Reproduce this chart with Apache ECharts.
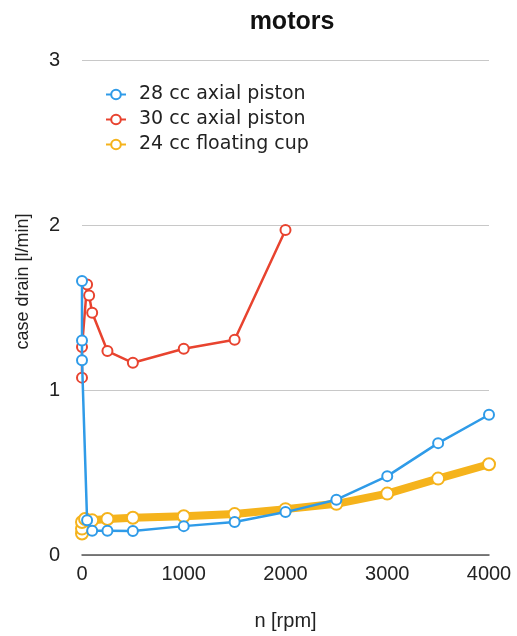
<!DOCTYPE html>
<html>
<head>
<meta charset="utf-8">
<script src="https://cdn.jsdelivr.net/npm/echarts@6/dist/echarts.min.js"></script>
<style>html,body{margin:0;padding:0;background:#fff;}#c{width:517px;height:636px;}</style>
</head>
<body>
<div id="c"></div>
<script>
var titleText = 'motors';
var xName = 'n [rpm]';
var yName = 'case drain [l/min]';
var xTicks = [0, 1000, 2000, 3000, 4000];
var yTicks = [0, 1, 2, 3];

var seriesNames = ['28 cc axial piston', '30 cc axial piston', '24 cc floating cup'];

var rpm28 = [0, 0, 0, 50, 100, 250, 500, 1000, 1500, 2000, 2500, 3000, 3500, 4000];
var drain28 = [1.66, 1.30, 1.18, 0.21, 0.147, 0.147, 0.145, 0.175, 0.20, 0.26, 0.335, 0.478, 0.678, 0.85];

var rpm30 = [0, 0, 50, 70, 100, 250, 500, 1000, 1500, 2000];
var drain30 = [1.075, 1.26, 1.64, 1.573, 1.468, 1.236, 1.165, 1.25, 1.305, 1.97];

var rpm24 = [0, 0, 0, 30, 100, 250, 500, 1000, 1500, 2000, 2500, 3000, 3500, 4000];
var drain24 = [0.13, 0.16, 0.2, 0.218, 0.21, 0.218, 0.226, 0.235, 0.248, 0.278, 0.31, 0.372, 0.463, 0.55];

var colors = ['#2f9be8', '#e8432f', '#f5b31c'];

function pairs(xs, ys) { return xs.map(function (x, i) { return [x, ys[i]]; }); }

var chart = echarts.init(document.getElementById('c'));
var font = 'Liberation Sans';
chart.setOption({
  animation: false,
  title: {
    text: titleText, left: 287, top: 5, textAlign: 'center',
    textStyle: { fontFamily: font, fontWeight: 'bold', fontSize: 25, color: '#111' }
  },
  legend: {
    orient: 'vertical', left: 100, top: 80, itemGap: 6,
    itemWidth: 20, itemHeight: 12,
    data: seriesNames,
    textStyle: { fontFamily: 'DejaVu Sans', fontSize: 19, color: '#222', padding: [0, 0, 0, 8] }
  },
  grid: { left: 82, right: 28, top: 60, bottom: 80, containLabel: false },
  xAxis: {
    type: 'value', min: 0, max: 4000, interval: 1000,
    name: xName, nameLocation: 'middle', nameGap: 56,
    nameTextStyle: { fontFamily: font, fontSize: 20, color: '#222' },
    axisLine: { show: true, lineStyle: { color: '#555', width: 1.5 } },
    axisTick: { show: false },
    splitLine: { show: false },
    axisLabel: { fontFamily: font, fontSize: 20, color: '#222', margin: 9,
      formatter: function (v) { return String(v); } }
  },
  yAxis: {
    type: 'value', min: 0, max: 3, interval: 1,
    name: yName, nameLocation: 'middle', nameGap: 50,
    nameTextStyle: { fontFamily: font, fontSize: 18, color: '#222', padding: [0, 0, 0, 52] },
    axisLine: { show: false },
    axisTick: { show: false },
    splitLine: { show: true, lineStyle: { color: '#c8c8c8', width: 1 } },
    axisLabel: { fontFamily: font, fontSize: 20, color: '#222', margin: 22 }
  },
  series: [
    {
      name: seriesNames[0], type: 'line', z: 4, data: pairs(rpm28, drain28),
      symbol: 'emptyCircle', symbolSize: 10, color: colors[0],
      lineStyle: { width: 2.5, color: colors[0] },
      itemStyle: { color: colors[0], borderWidth: 2.5, borderColor: colors[0] }
    },
    {
      name: seriesNames[1], type: 'line', z: 3, data: pairs(rpm30, drain30),
      symbol: 'emptyCircle', symbolSize: 10, color: colors[1],
      lineStyle: { width: 2.5, color: colors[1] },
      itemStyle: { color: colors[1], borderWidth: 2.5, borderColor: colors[1] }
    },
    {
      name: seriesNames[2], type: 'line', z: 2, data: pairs(rpm24, drain24),
      symbol: 'emptyCircle', symbolSize: 12, color: colors[2],
      lineStyle: { width: 8, color: colors[2] },
      itemStyle: { color: colors[2], borderWidth: 3.5, borderColor: colors[2] }
    }
  ]
});
</script>
</body>
</html>
